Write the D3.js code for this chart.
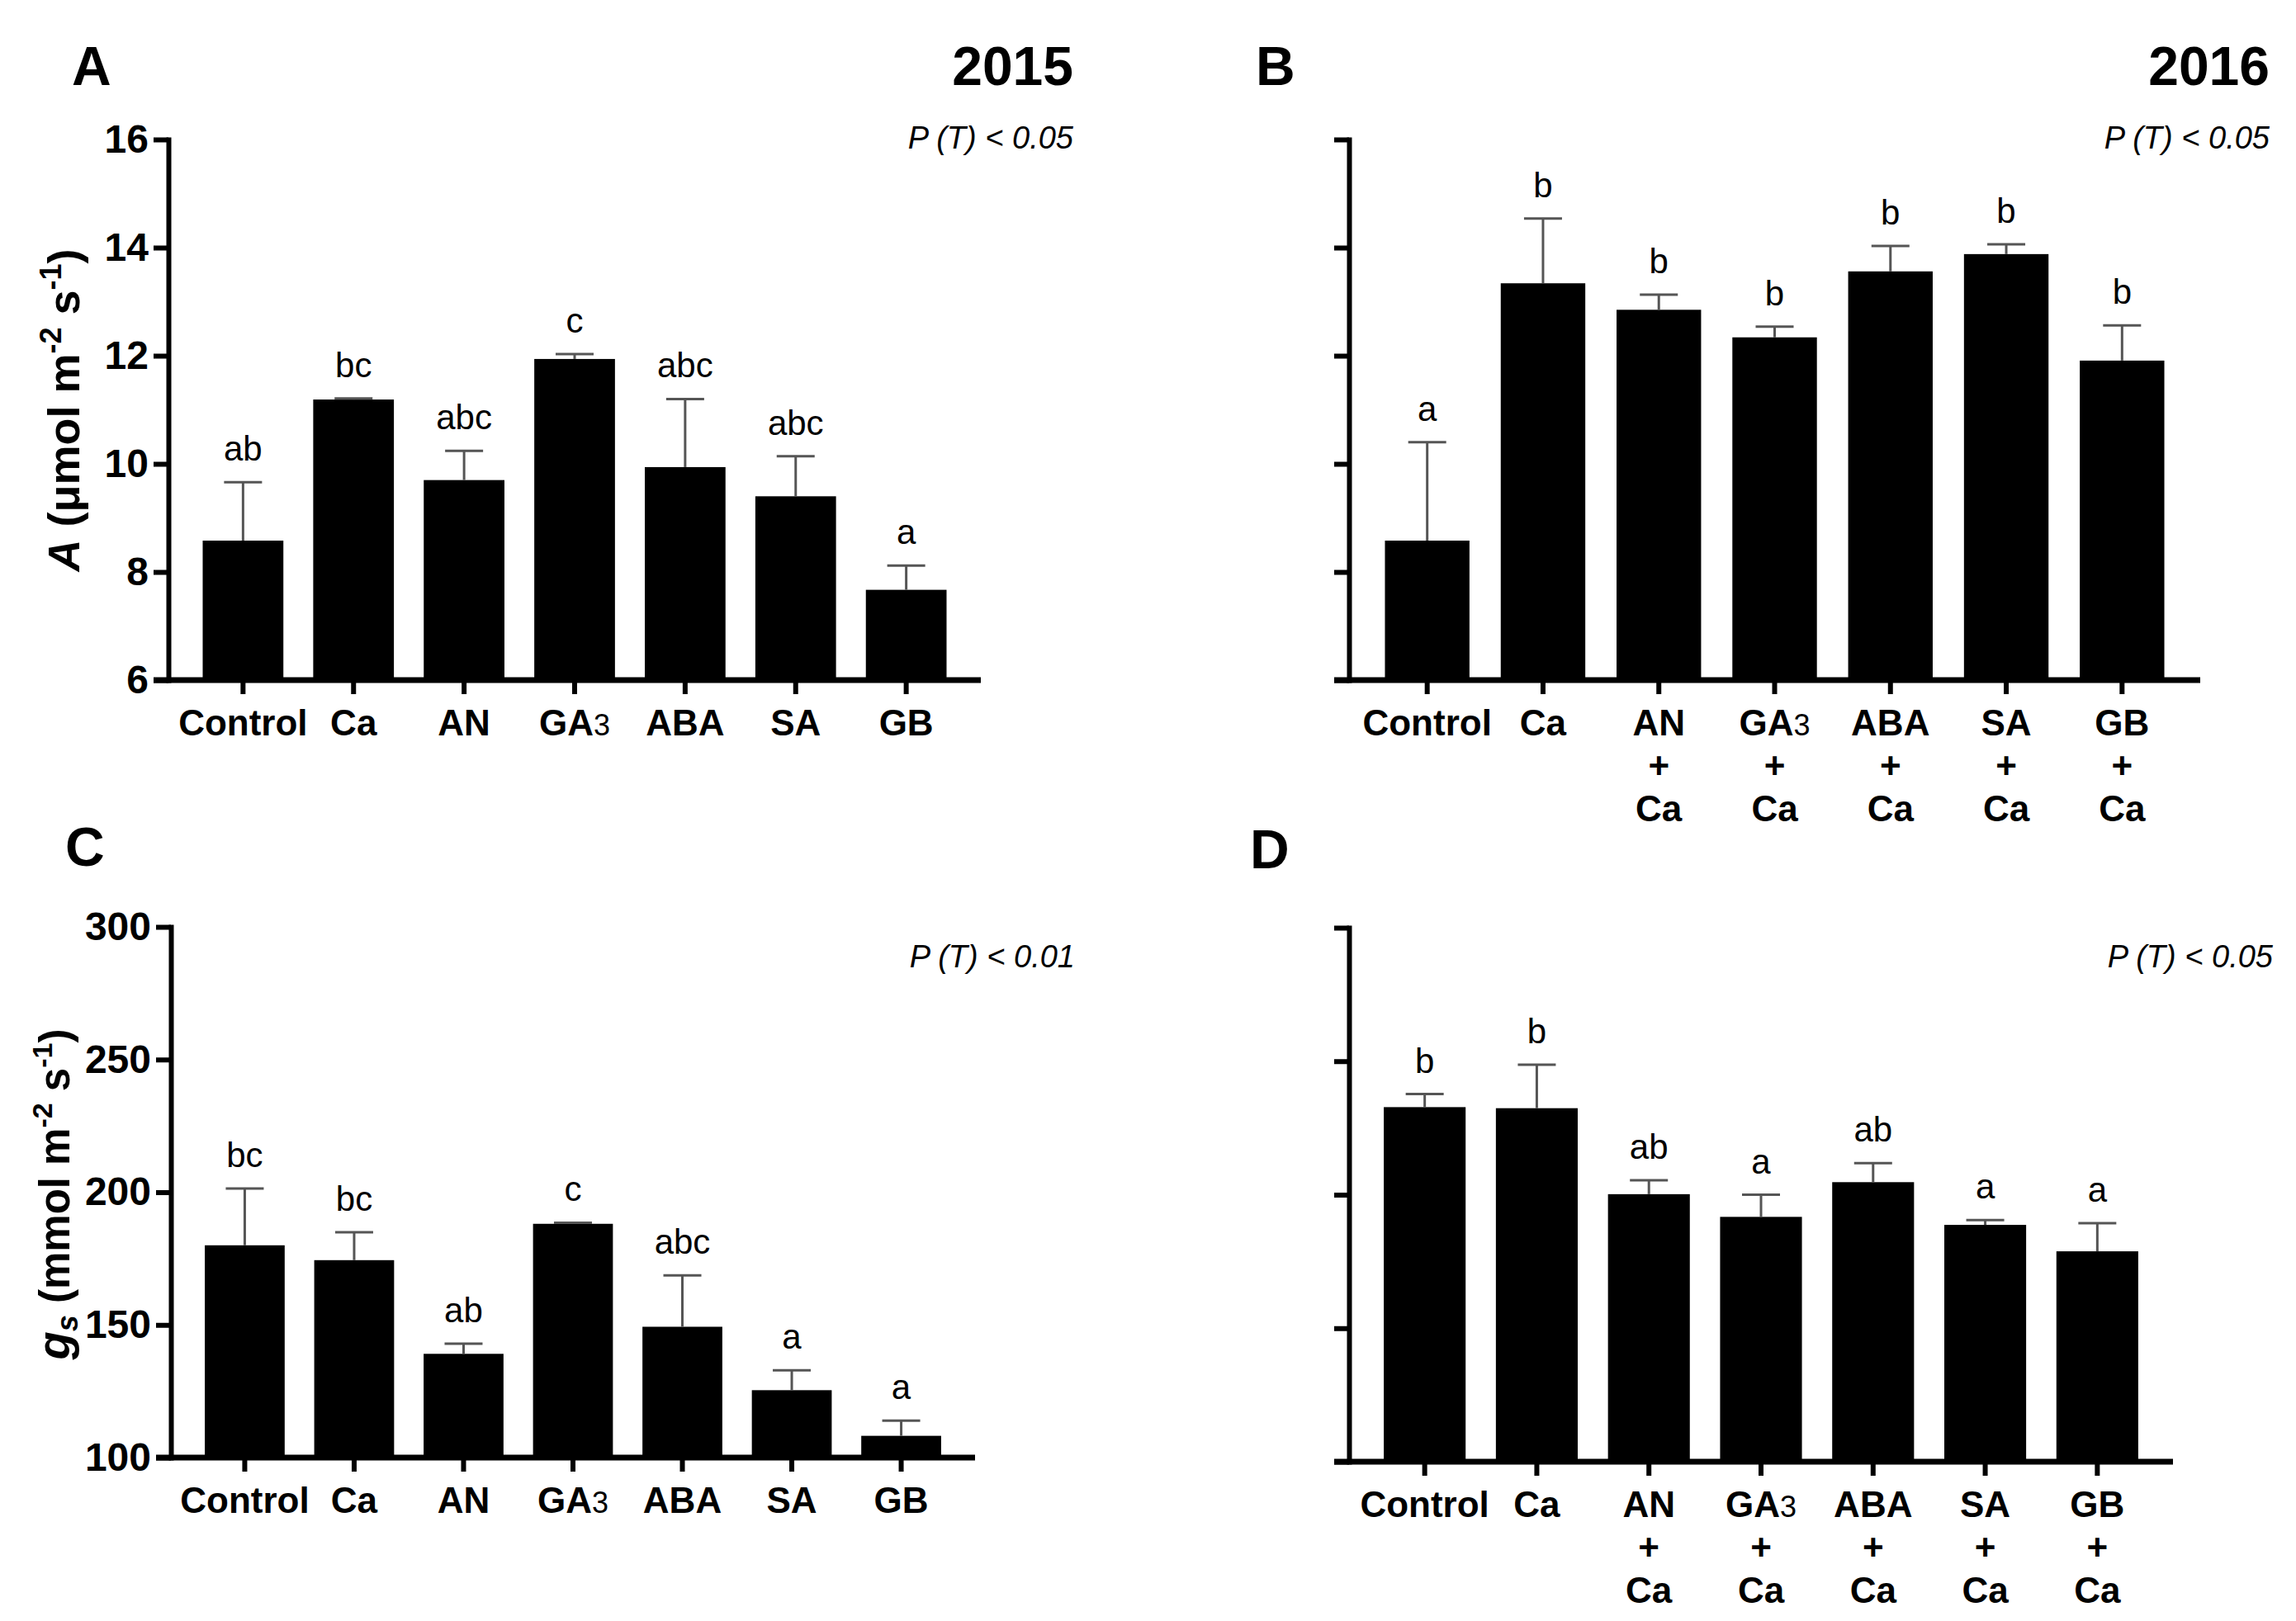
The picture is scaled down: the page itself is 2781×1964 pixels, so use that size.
<!DOCTYPE html>
<html>
<head>
<meta charset="utf-8">
<script src="https://cdn.jsdelivr.net/npm/d3@7/dist/d3.min.js"></script>
<style>
  body { margin: 0; background: #fff; }
  svg { display: block; }
  text { font-family: "Liberation Sans", Arial, sans-serif; fill: #000; }
  .tick text { font-size: 48px; font-weight: bold; }
  .cat { font-size: 44px; font-weight: bold; }
  .sig { font-size: 42px; }
  .ptext { font-size: 38px; font-style: italic; }
  .big { font-size: 66px; font-weight: bold; }
  .ytitle { font-weight: bold; }
</style>
</head>
<body>
<script>
// treatments (2016 panels add "+ Ca" under all but Control and Ca)
var categories = ["Control", "Ca", "AN", "GA3", "ABA", "SA", "GB"];

var ticksA = [6, 8, 10, 12, 14, 16];
var ticksG = [100, 150, 200, 250, 300];

// A, 2015
var meanA = [8.58, 11.19, 9.70, 11.94, 9.94, 9.40, 7.67];
var errA = [1.08, 0.02, 0.54, 0.09, 1.26, 0.74, 0.45];
var lettersA = ["ab", "bc", "abc", "c", "abc", "abc", "a"];

// A, 2016
var meanB = [8.58, 13.34, 12.85, 12.34, 13.56, 13.88, 11.91];
var errB = [1.82, 1.20, 0.28, 0.20, 0.47, 0.18, 0.65];
var lettersB = ["a", "b", "b", "b", "b", "b", "b"];

// gs, 2015
var meanC = [180.0, 174.4, 139.1, 188.1, 149.3, 125.4, 108.2];
var errC = [21.4, 10.5, 3.8, 0.4, 19.4, 7.5, 5.7];
var lettersC = ["bc", "bc", "ab", "c", "abc", "a", "a"];

// gs, 2016
var meanD = [232.8, 232.4, 200.2, 191.7, 204.7, 188.7, 178.8];
var errD = [4.9, 16.3, 5.2, 8.3, 7.1, 1.8, 10.5];
var lettersD = ["b", "b", "ab", "a", "ab", "a", "a"];

var svg = d3.select("body").append("svg")
    .attr("width", 2781)
    .attr("height", 1964);

var panels = [
  {tag: "A", year: "2015", p: "P (T) < 0.05", mean: meanA, err: errA, letters: lettersA,
   left: 204, right: 1188, top: 169, bottom: 824, domain: [6, 16], ticks: ticksA,
   showLabels: true, withCa: false, tagX: 87, tagY: 103, yearX: 1300, pY: 180, title: "A"},
  {tag: "B", year: "2016", p: "P (T) < 0.05", mean: meanB, err: errB, letters: lettersB,
   left: 1634, right: 2665, top: 169, bottom: 824, domain: [6, 16], ticks: ticksA,
   showLabels: false, withCa: true, tagX: 1521, tagY: 103, yearX: 2749, pY: 180},
  {tag: "C", p: "P (T) < 0.01", mean: meanC, err: errC, letters: lettersC,
   left: 207, right: 1181, top: 1123, bottom: 1766, domain: [100, 300], ticks: ticksG,
   showLabels: true, withCa: false, tagX: 79, tagY: 1049, yearX: 1302, pY: 1172, title: "g"},
  {tag: "D", p: "P (T) < 0.05", mean: meanD, err: errD, letters: lettersD,
   left: 1634, right: 2632, top: 1124, bottom: 1771, domain: [100, 300], ticks: ticksG,
   showLabels: false, withCa: true, tagX: 1514, tagY: 1052, yearX: 2753, pY: 1172}
];

panels.forEach(function(cfg) {
  var g = svg.append("g");

  var x = d3.scaleBand()
      .domain(categories)
      .range([cfg.left, cfg.right])
      .paddingInner(0.27)
      .paddingOuter(0.31);

  var y = d3.scaleLinear()
      .domain(cfg.domain)
      .range([cfg.bottom, cfg.top]);

  // bars
  g.append("g").selectAll("rect")
    .data(cfg.mean)
    .enter().append("rect")
      .attr("x", function(d, i) { return x(categories[i]); })
      .attr("width", x.bandwidth())
      .attr("y", function(d) { return y(d); })
      .attr("height", function(d) { return cfg.bottom - y(d); })
      .attr("fill", "#000");

  // error bars (upper only)
  var eb = g.append("g").attr("stroke", "#555").attr("stroke-width", 3);
  cfg.mean.forEach(function(m, i) {
    var cx = x(categories[i]) + x.bandwidth() / 2;
    var yt = y(m + cfg.err[i]);
    eb.append("line").attr("x1", cx).attr("x2", cx).attr("y1", y(m)).attr("y2", yt);
    eb.append("line").attr("x1", cx - 23).attr("x2", cx + 23).attr("y1", yt).attr("y2", yt);
  });

  // significance letters
  g.append("g").selectAll("text")
    .data(cfg.letters)
    .enter().append("text")
      .attr("class", "sig")
      .attr("text-anchor", "middle")
      .attr("x", function(d, i) { return x(categories[i]) + x.bandwidth() / 2; })
      .attr("y", function(d, i) { return y(cfg.mean[i] + cfg.err[i]) - 26; })
      .text(function(d) { return d; });

  // y axis
  var yAxis = d3.axisLeft(y)
      .tickValues(cfg.ticks)
      .tickSize(18)
      .tickSizeOuter(0)
      .tickPadding(6)
      .tickFormat(cfg.showLabels ? d3.format("d") : "");
  var ya = g.append("g")
      .attr("transform", "translate(" + cfg.left + ",0)")
      .call(yAxis);
  ya.select(".domain").attr("stroke-width", 6).attr("stroke-linecap", "square");
  ya.selectAll(".tick line").attr("stroke-width", 6);
  ya.selectAll(".tick text").attr("fill", "#000");

  // x axis
  var xAxis = d3.axisBottom(x).tickSize(17).tickSizeOuter(0).tickFormat("");
  var xa = g.append("g")
      .attr("transform", "translate(0," + cfg.bottom + ")")
      .call(xAxis);
  xa.select(".domain").remove();
  xa.selectAll(".tick line").attr("stroke-width", 6);
  xa.append("line")
      .attr("x1", cfg.left - 18).attr("x2", cfg.right)
      .attr("y1", 0).attr("y2", 0)
      .attr("stroke", "#000").attr("stroke-width", 7);

  // category labels
  categories.forEach(function(c, i) {
    var cx = x(c) + x.bandwidth() / 2;
    var t = g.append("text")
        .attr("class", "cat")
        .attr("text-anchor", "middle")
        .attr("x", cx)
        .attr("y", cfg.bottom + 67);
    if (c === "GA3") {
      t.append("tspan").text("GA");
      t.append("tspan").attr("font-weight", "normal").attr("font-size", "36px").text("3");
    } else {
      t.text(c);
    }
    if (cfg.withCa && i > 1) {
      g.append("text").attr("class", "cat").attr("text-anchor", "middle")
        .attr("x", cx).attr("y", cfg.bottom + 119).text("+");
      g.append("text").attr("class", "cat").attr("text-anchor", "middle")
        .attr("x", cx).attr("y", cfg.bottom + 171).text("Ca");
    }
  });

  // panel tag, year, p value
  svg.append("text").attr("class", "big").attr("x", cfg.tagX).attr("y", cfg.tagY).text(cfg.tag);
  if (cfg.year) {
    svg.append("text").attr("class", "big").attr("text-anchor", "end")
      .attr("x", cfg.yearX).attr("y", cfg.tagY).text(cfg.year);
  }
  svg.append("text").attr("class", "ptext").attr("text-anchor", "end")
    .attr("x", cfg.yearX).attr("y", cfg.pY).text(cfg.p);

  // y titles
  if (cfg.title === "A") {
    var t = svg.append("text").attr("class", "ytitle").attr("text-anchor", "middle")
      .attr("font-size", "54px")
      .attr("transform", "translate(96,497) rotate(-90)");
    t.append("tspan").attr("font-style", "italic").text("A");
    t.append("tspan").text(" (\u03bcmol m");
    t.append("tspan").attr("font-size", "36px").attr("dy", -22).text("-2");
    t.append("tspan").attr("dy", 22).text(" s");
    t.append("tspan").attr("font-size", "36px").attr("dy", -22).text("-1");
    t.append("tspan").attr("dy", 22).text(")");
  } else if (cfg.title === "g") {
    var t2 = svg.append("text").attr("class", "ytitle").attr("text-anchor", "middle")
      .attr("font-size", "51px")
      .attr("transform", "translate(84,1447) rotate(-90)");
    t2.append("tspan").attr("font-style", "italic").attr("font-size", "56px").text("g");
    t2.append("tspan").attr("font-style", "italic").attr("font-size", "36px").attr("dy", 10).text("s");
    t2.append("tspan").attr("dy", -10).text(" (mmol m");
    t2.append("tspan").attr("font-size", "34px").attr("dy", -21).text("-2");
    t2.append("tspan").attr("dy", 21).text(" s");
    t2.append("tspan").attr("font-size", "34px").attr("dy", -21).text("-1");
    t2.append("tspan").attr("dy", 21).text(")");
  }
});
</script>
</body>
</html>
